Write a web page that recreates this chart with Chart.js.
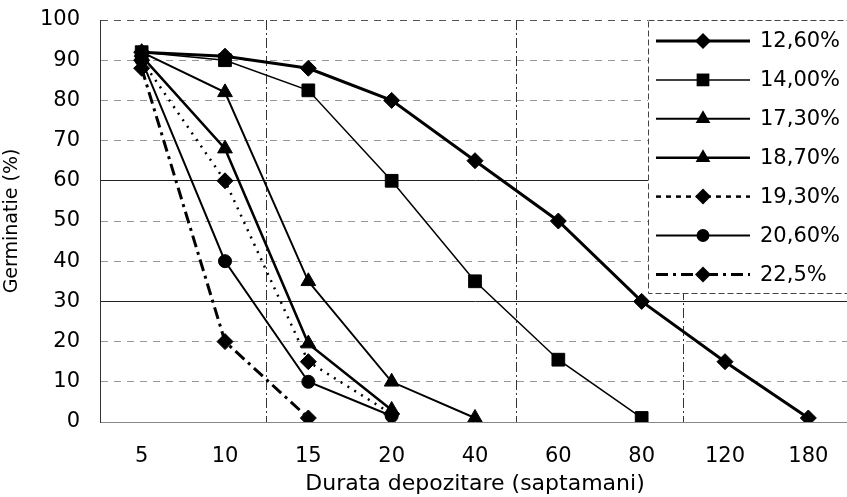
<!DOCTYPE html>
<html>
<head>
<meta charset="utf-8">
<script src="https://cdn.jsdelivr.net/npm/chart.js@4/dist/chart.umd.min.js"></script>
<style>
html, body { margin: 0; padding: 0; background: #fff; overflow: hidden; }
#wrap { width: 860px; height: 497px; }
</style>
</head>
<body>
<div id="wrap"><canvas id="germChart" width="860" height="497"></canvas></div>
<script>
// storage duration (weeks) on the x axis
const weeks = ['5', '10', '15', '20', '40', '60', '80', '120', '180'];

// germination (%) per seed moisture content
const moist1260 = [92, 91, 88, 80, 65, 50, 30, 15, 1];
const moist1400 = [92, 90, 82.5, 60, 35, 15.5, 1, null, null];
const moist1730 = [92, 82, 35, 10, 1, null, null, null, null];
const moist1870 = [91, 68, 19.5, 3, null, null, null, null, null];
const moist1930 = [90, 60, 15, 2, null, null, null, null, null];
const moist2060 = [90, 40, 10, 1.5, null, null, null, null, null];
const moist2250 = [88, 20, 1, null, null, null, null, null, null];

const seriesNames = ['12,60%', '14,00%', '17,30%', '18,70%', '19,30%', '20,60%', '22,5%'];

Chart.defaults.font.family = "'DejaVu Sans', sans-serif";
Chart.defaults.color = '#000';

function series(label, data, width, style, radius, dash) {
    return {
        label: label,
        data: data,
        borderColor: '#000',
        backgroundColor: '#000',
        borderWidth: width,
        borderDash: dash || [],
        pointStyle: style,
        pointRadius: radius,
        pointHoverRadius: radius,
        pointBackgroundColor: '#000',
        pointBorderColor: '#000',
        pointBorderWidth: 1,
        tension: 0,
        fill: false
    };
}

function marker(ctx, style, r, x, y) {
    ctx.beginPath();
    if (style === 'rectRot') {
        ctx.moveTo(x, y - r);
        ctx.lineTo(x + r, y);
        ctx.lineTo(x, y + r);
        ctx.lineTo(x - r, y);
    } else if (style === 'rect') {
        const s = r * Math.SQRT1_2;
        ctx.rect(x - s, y - s, 2 * s, 2 * s);
    } else if (style === 'triangle') {
        const size = r * 3 / Math.sqrt(3);
        const h = size * Math.sqrt(3) / 2;
        ctx.moveTo(x - size / 2, y + h / 3);
        ctx.lineTo(x + size / 2, y + h / 3);
        ctx.lineTo(x, y - 2 * h / 3);
    } else {
        ctx.arc(x, y, r, 0, Math.PI * 2);
    }
    ctx.closePath();
    ctx.fill();
}

// legend box sitting inside the plot, top right
const legendBox = {
    id: 'legendBox',
    beforeDatasetsDraw(chart) {
        const ctx = chart.ctx;
        const x0 = 648, y0 = chart.chartArea.top, y1 = 293;
        ctx.save();
        ctx.fillStyle = '#fff';
        ctx.fillRect(x0, y0, chart.width - x0, y1 - y0);
        ctx.strokeStyle = '#444';
        ctx.lineWidth = 1;
        ctx.setLineDash([6, 3]);
        ctx.strokeRect(x0 + 0.5, y0 + 0.5, chart.width, y1 - y0);
        chart.data.datasets.forEach((ds, i) => {
            const y = y0 + 21 + i * 38.9;
            ctx.strokeStyle = '#000';
            ctx.lineWidth = ds.borderWidth;
            ctx.setLineDash(ds.legendDash || ds.borderDash);
            ctx.beginPath();
            ctx.moveTo(x0 + 8, y);
            ctx.lineTo(x0 + 102, y);
            ctx.stroke();
            ctx.setLineDash([]);
            ctx.fillStyle = '#000';
            marker(ctx, ds.pointStyle, ds.pointRadius, x0 + 55, y);
            ctx.font = "21px 'DejaVu Sans', sans-serif";
            ctx.textBaseline = 'middle';
            ctx.textAlign = 'left';
            ctx.fillText(ds.label, x0 + 112, y + 1);
        });
        ctx.restore();
    }
};

const darkCols = [2, 5, 7];

const dsDotted = series(seriesNames[4], moist1930, 2.5, 'rectRot', 8, [2, 6]);
dsDotted.legendDash = [5, 5];

new Chart(document.getElementById('germChart').getContext('2d'), {
    type: 'line',
    data: {
        labels: weeks,
        datasets: [
            series(seriesNames[0], moist1260, 3, 'rectRot', 8),
            series(seriesNames[1], moist1400, 1.5, 'rect', 9),
            series(seriesNames[2], moist1730, 2, 'triangle', 8.5),
            series(seriesNames[3], moist1870, 2.5, 'triangle', 8.5),
            dsDotted,
            series(seriesNames[5], moist2060, 2, 'circle', 6.5),
            series(seriesNames[6], moist2250, 3, 'rectRot', 8, [12, 5, 3, 5])
        ]
    },
    options: {
        responsive: false,
        animation: false,
        layout: { padding: { top: 20, right: 6, left: 0, bottom: 0 } },
        plugins: {
            legend: { display: false },
            tooltip: { enabled: false }
        },
        scales: {
            x: {
                type: 'category',
                offset: true,
                afterFit: (s) => { s.height = 75; },
                grid: {
                    offset: true,
                    drawTicks: false,
                    lineWidth: 1,
                    color: (c) => darkCols.includes(c.index) ? '#333' : 'rgba(0,0,0,0)'
                },
                border: {
                    display: true,
                    color: (c) => c.type === 'tick' ? '#333' : '#888',
                    width: 1,
                    dash: (c) => c.type === 'tick' ? [10, 3, 2, 3] : [6, 5]
                },
                ticks: { font: { size: 21 }, padding: 22, color: '#000' },
                title: {
                    display: true,
                    text: 'Durata depozitare (saptamani)',
                    font: { size: 22 },
                    color: '#000',
                    padding: { top: 0, bottom: 0 }
                }
            },
            y: {
                min: 0,
                max: 100,
                afterFit: (s) => { s.width = 100; s.paddingTop = 0; s.paddingBottom = 0; },
                ticks: { stepSize: 10, font: { size: 21 }, padding: 20, color: '#000' },
                grid: {
                    drawTicks: false,
                    lineWidth: 1,
                    color: (c) => {
                        const v = c.tick ? c.tick.value : -1;
                        if (v === 0) return 'rgba(0,0,0,0)';
                        if (v === 30 || v === 60) return '#222';
                        if (v === 100) return '#555';
                        return '#999';
                    }
                },
                border: {
                    display: true,
                    color: '#333',
                    width: 1,
                    dash: (c) => {
                        if (c.type !== 'tick') return [9, 3, 2, 3];
                        const v = c.tick ? c.tick.value : -1;
                        if (v === 30 || v === 60) return [];
                        return [7, 6];
                    }
                },
                title: {
                    display: true,
                    text: 'Germinatie (%)',
                    font: { size: 19 },
                    color: '#000',
                    padding: { top: 1, bottom: 0 }
                }
            }
        }
    },
    plugins: [legendBox]
});
</script>
</body>
</html>
